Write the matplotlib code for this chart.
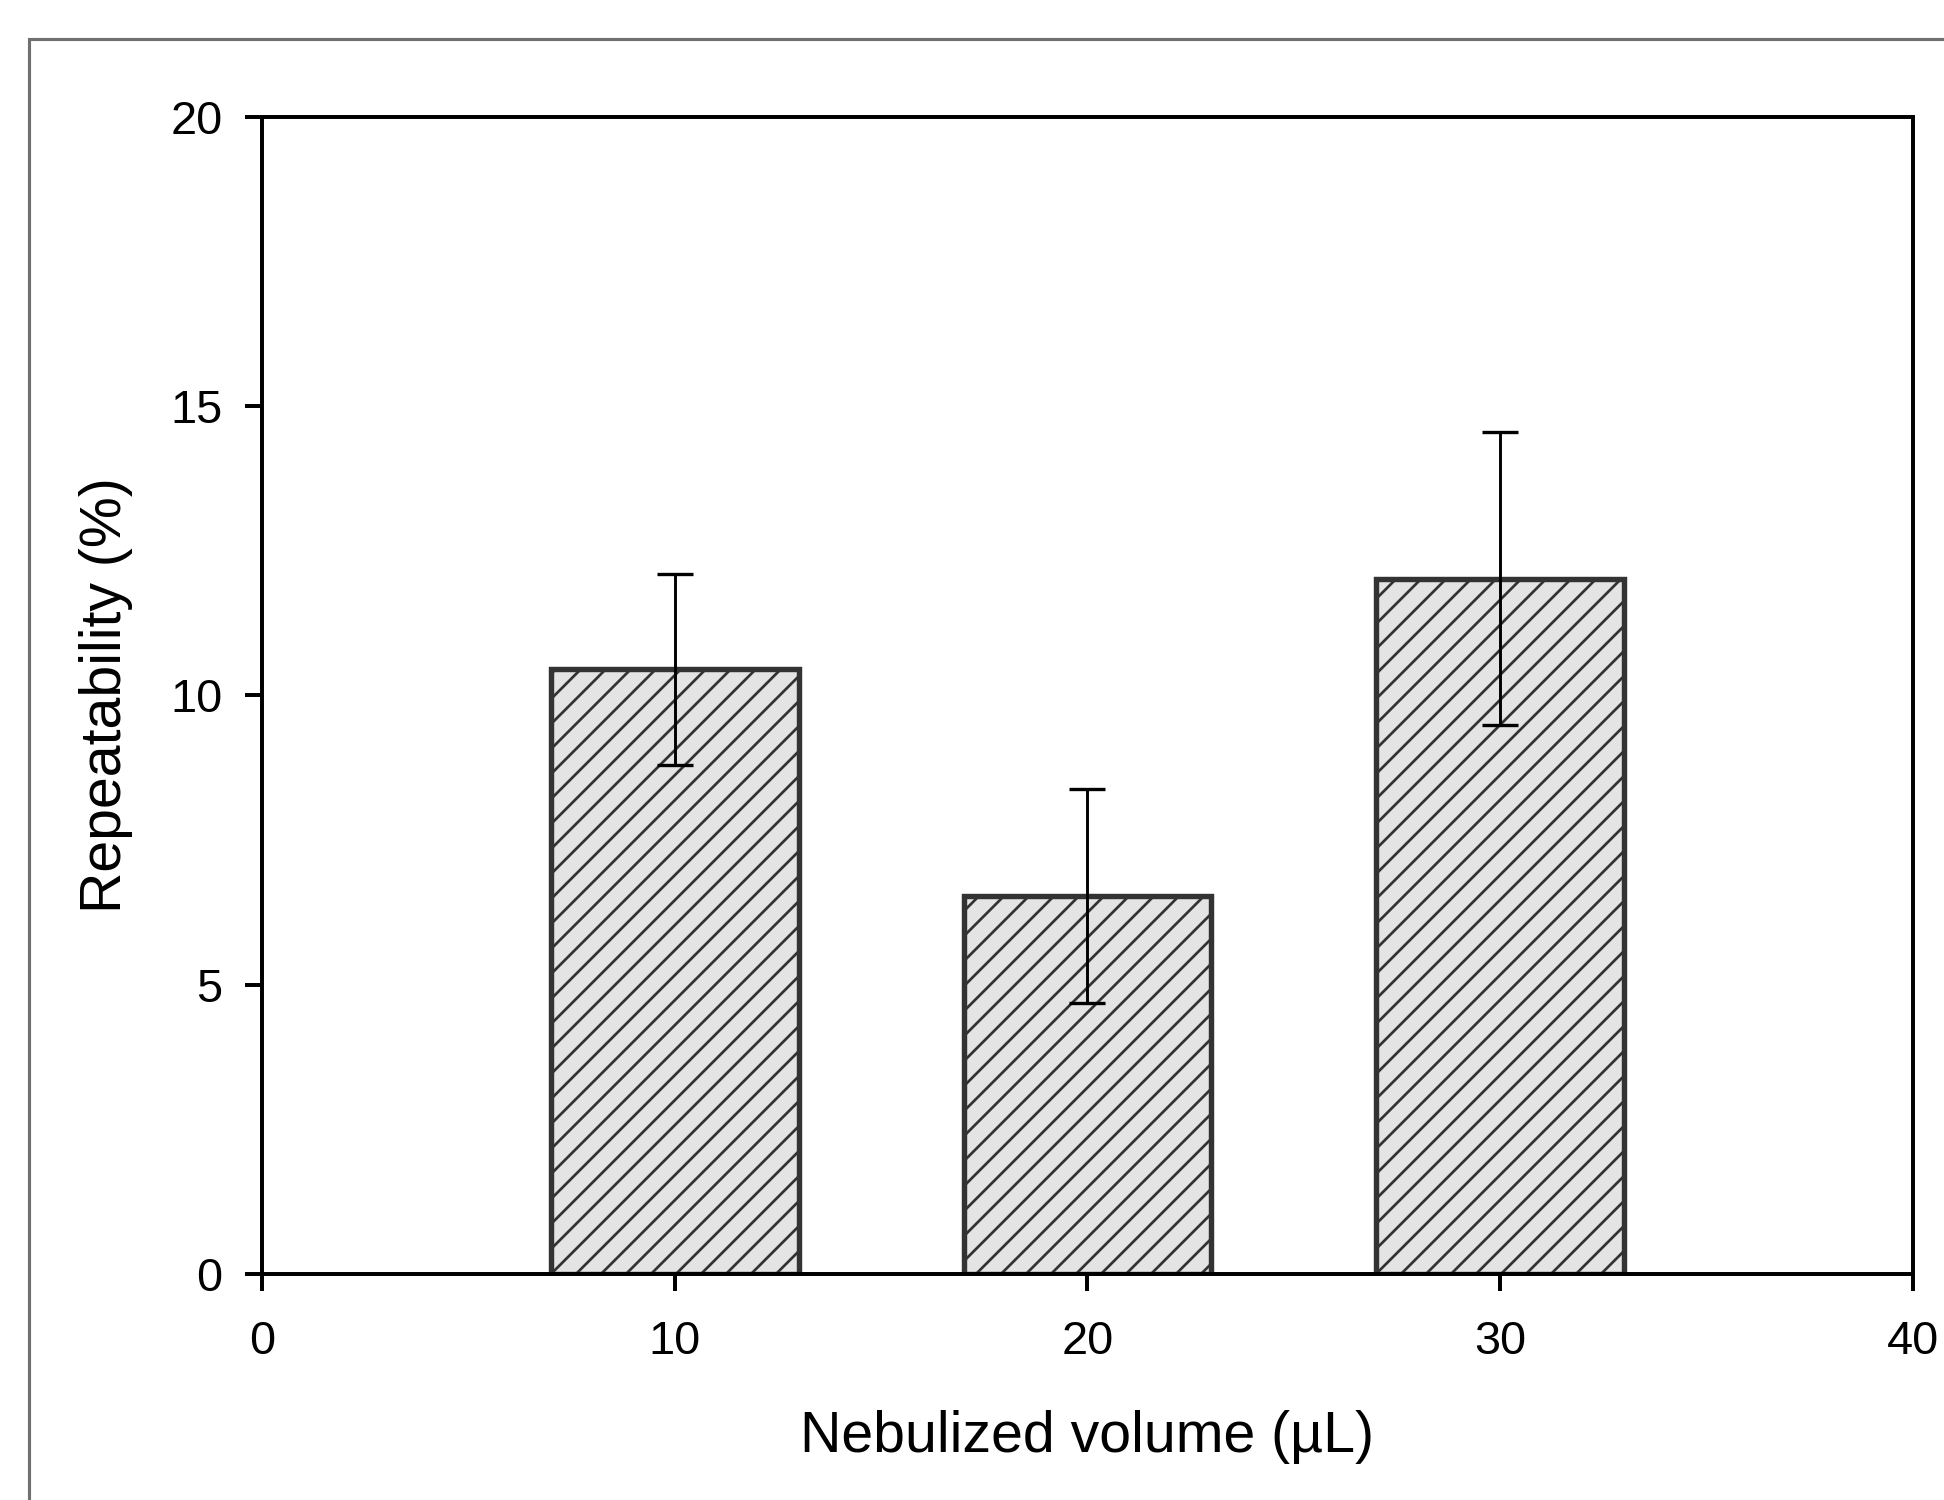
import matplotlib
matplotlib.use("Agg")
import matplotlib.pyplot as plt
from matplotlib.patches import Rectangle

volumes = [10, 20, 30]
repeatability = [10.45, 6.53, 12.02]
errors = [1.65, 1.85, 2.53]
xticks = [0, 10, 20, 30, 40]
yticks = [0, 5, 10, 15, 20]

plt.rcParams['font.family'] = ['Liberation Sans', 'DejaVu Sans']
plt.rcParams['hatch.linewidth'] = 1.3
plt.rcParams['hatch.color'] = '#5a5a5a'

fig = plt.figure(figsize=(12.96, 10.0), dpi=150)
ax = fig.add_axes([0.1348, 0.1507, 0.984 - 0.1348, 0.922 - 0.1507])

ax.bar(volumes, repeatability, width=6, color='#e4e4e4', edgecolor='#333333',
       linewidth=2.6, hatch='//', zorder=2)
ax.errorbar(volumes, repeatability, yerr=errors, fmt='none', ecolor='black',
            elinewidth=1.4, capsize=8.5, capthick=1.6, zorder=3)

ax.set_xlim(0, 40)
ax.set_ylim(0, 20)
ax.set_xticks(xticks)
ax.set_yticks(yticks)
ax.set_xticklabels([str(t) for t in xticks])
ax.set_yticklabels([str(t) for t in yticks])

for s in ax.spines.values():
    s.set_linewidth(1.9)
    s.set_color('black')
ax.tick_params(axis='both', direction='out', length=8, width=1.9,
               labelsize=22.5, top=False, right=False)
ax.tick_params(axis='y', pad=11)
ax.tick_params(axis='x', pad=14)

ax.set_xlabel('Nebulized volume (µL)', fontsize=27.5, labelpad=22)
ax.set_ylabel('Repeatability (%)', fontsize=27.5, labelpad=18)

frame = Rectangle((29 / 1944, -0.05), 1.1, 1 - 39 / 1500 + 0.05,
                  transform=fig.transFigure, fill=False, edgecolor='#707070',
                  linewidth=1.5, clip_on=False)
fig.patches.append(frame)

fig.savefig('out.png', dpi=150, facecolor='white')
